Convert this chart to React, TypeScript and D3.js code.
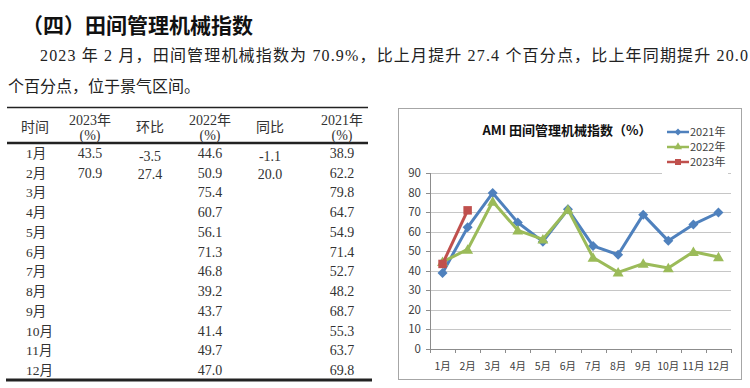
import React, { useEffect, useRef } from "react";
import * as d3 from "d3";

const months = ["1月", "2月", "3月", "4月", "5月", "6月", "7月", "8月", "9月", "10月", "11月", "12月"];
const v2021 = [38.9, 62.2, 79.8, 64.7, 54.9, 71.4, 52.7, 48.2, 68.7, 55.3, 63.7, 69.8];
const v2022 = [44.6, 50.9, 75.4, 60.7, 56.1, 71.3, 46.8, 39.2, 43.7, 41.4, 49.7, 47.0];
const v2023 = [43.5, 70.9];
const momChange = [-3.5, 27.4];
const yoyChange = [-1.1, 20.0];
const yTicks = [0, 10, 20, 30, 40, 50, 60, 70, 80, 90];
const seriesNames = ["2021年", "2022年", "2023年"];
const seriesColors = ["#4f81bd", "#9bbb59", "#c0504d"];

const heading = "（四）田间管理机械指数";
const para1 = "2023 年 2 月，田间管理机械指数为 70.9%，比上月提升 27.4 个百分点，比上年同期提升 20.0";
const para2 = "个百分点，位于景气区间。";
const chartTitle = "AMI 田间管理机械指数（%）";

const serif = "'Liberation Serif', 'Noto Sans CJK SC', serif";
const sans = "'Noto Sans CJK SC', 'Noto Sans', sans-serif";

const App = () => {
  const ref = useRef<SVGSVGElement | null>(null);

  useEffect(() => {
    const svg = d3.select(ref.current);
    svg.selectAll("*").remove();

    // page text
    svg.append("text").attr("x", 22).attr("y", 33)
      .attr("font-family", sans).attr("font-weight", "bold").attr("font-size", 21)
      .attr("fill", "#111").text(heading);
    svg.append("text").attr("x", 40).attr("y", 61)
      .attr("font-family", serif).attr("font-size", 16).attr("fill", "#222")
      .attr("textLength", 708).attr("lengthAdjust", "spacing").text(para1);
    svg.append("text").attr("x", 8).attr("y", 92)
      .attr("font-family", serif).attr("font-size", 16).attr("fill", "#222").text(para2);

    // ---- table ----
    const tbl = svg.append("g").attr("font-family", serif).attr("font-size", 14).attr("fill", "#333");
    tbl.append("line").attr("x1", 7).attr("x2", 368).attr("y1", 107.5).attr("y2", 107.5)
      .attr("stroke", "#222").attr("stroke-width", 1.5);
    tbl.append("line").attr("x1", 7).attr("x2", 368).attr("y1", 143).attr("y2", 143)
      .attr("stroke", "#222").attr("stroke-width", 2.5);
    tbl.append("line").attr("x1", 6).attr("x2", 372).attr("y1", 380).attr("y2", 380)
      .attr("stroke", "#222").attr("stroke-width", 3);

    const colX = [35, 90, 150, 210, 270, 342];
    const headers = [["时间"], ["2023年", "(%)"], ["环比"], ["2022年", "(%)"], ["同比"], ["2021年", "(%)"]];
    headers.forEach((h, i) => {
      if (h.length === 1) {
        tbl.append("text").attr("x", colX[i]).attr("y", 132).attr("text-anchor", "middle").text(h[0]);
      } else {
        tbl.append("text").attr("x", colX[i]).attr("y", 125).attr("text-anchor", "middle").text(h[0]);
        tbl.append("text").attr("x", colX[i]).attr("y", 140).attr("text-anchor", "middle").text(h[1]);
      }
    });

    const rowY = d3.scaleLinear().domain([0, 11]).range([158, 375]);
    months.forEach((m, i) => {
      const y = rowY(i);
      tbl.append("text").attr("x", 26).attr("y", y).attr("font-size", 13.5).text(m);
      if (i < v2023.length) {
        tbl.append("text").attr("x", colX[1]).attr("y", y).attr("text-anchor", "middle").text(v2023[i].toFixed(1));
        tbl.append("text").attr("x", colX[2]).attr("y", y + (i === 0 ? 3 : 1)).attr("text-anchor", "middle").text(momChange[i].toFixed(1));
        tbl.append("text").attr("x", colX[4]).attr("y", y + (i === 0 ? 3 : 1)).attr("text-anchor", "middle").text(yoyChange[i].toFixed(1));
      }
      tbl.append("text").attr("x", colX[3]).attr("y", y).attr("text-anchor", "middle").text(v2022[i].toFixed(1));
      tbl.append("text").attr("x", colX[5]).attr("y", y).attr("text-anchor", "middle").text(v2021[i].toFixed(1));
    });

    // ---- chart ----
    svg.append("rect").attr("x", 398.5).attr("y", 108.5).attr("width", 343).attr("height", 271)
      .attr("fill", "#fff").attr("stroke", "#a6a6a6");

    const x = d3.scaleBand().domain(months).range([430, 731]);
    const y = d3.scaleLinear().domain([0, 90]).range([349, 173]);
    const cx = (m: string) => (x(m) as number) + x.bandwidth() / 2;

    const g = svg.append("g").attr("font-family", sans).attr("font-size", 11.5).attr("fill", "#404040");

    g.selectAll(".grid").data(yTicks.filter((t) => t > 0)).enter().append("line")
      .attr("x1", 430).attr("x2", 731)
      .attr("y1", (d) => Math.round(y(d)) + 0.5).attr("y2", (d) => Math.round(y(d)) + 0.5)
      .attr("stroke", "#c6c6c6");

    // axes
    g.append("line").attr("x1", 430.5).attr("x2", 430.5).attr("y1", y(90)).attr("y2", y(0))
      .attr("stroke", "#8c8c8c");
    g.append("line").attr("x1", 430).attr("x2", 731).attr("y1", Math.round(y(0)) + 0.5).attr("y2", Math.round(y(0)) + 0.5)
      .attr("stroke", "#8c8c8c");
    g.selectAll(".ytick").data(yTicks).enter().append("line")
      .attr("x1", 426).attr("x2", 430)
      .attr("y1", (d) => Math.round(y(d)) + 0.5).attr("y2", (d) => Math.round(y(d)) + 0.5)
      .attr("stroke", "#8c8c8c");
    g.selectAll(".xtick").data(months.concat([""])).enter().append("line")
      .attr("x1", (d, i) => Math.round(430 + i * x.bandwidth()) + 0.5)
      .attr("x2", (d, i) => Math.round(430 + i * x.bandwidth()) + 0.5)
      .attr("y1", y(0)).attr("y2", y(0) + 4)
      .attr("stroke", "#8c8c8c");

    g.selectAll(".ylab").data(yTicks).enter().append("text")
      .attr("x", 421).attr("y", (d) => y(d) + 4).attr("text-anchor", "end").text((d) => d);
    g.selectAll(".xlab").data(months).enter().append("text")
      .attr("x", (d) => cx(d)).attr("y", 370).attr("text-anchor", "middle")
      .attr("font-size", 10.5).text((d) => d);

    // series
    const allSeries = [v2021, v2022, v2023];
    const symbols = [
      d3.symbol().type(d3.symbolDiamond2).size(64),
      d3.symbol().type(d3.symbolTriangle).size(52),
      d3.symbol().type(d3.symbolSquare).size(72),
    ];
    allSeries.forEach((vals, s) => {
      const line = d3.line<number>().x((d, i) => cx(months[i])).y((d) => y(d));
      svg.append("path").attr("d", line(vals)).attr("fill", "none")
        .attr("stroke", seriesColors[s]).attr("stroke-width", 3).attr("stroke-linejoin", "round");
      svg.selectAll(".m" + s).data(vals).enter().append("path")
        .attr("d", symbols[s]())
        .attr("transform", (d, i) => `translate(${cx(months[i])},${y(d) + (s === 1 ? 1 : 0)})`)
        .attr("fill", seriesColors[s]);
    });

    // title
    svg.append("text").attr("x", 567).attr("y", 135).attr("text-anchor", "middle")
      .attr("font-family", sans).attr("font-weight", "bold").attr("font-size", 13).attr("fill", "#111")
      .text(chartTitle);

    // legend
    const lg = svg.append("g");
    lg.append("rect").attr("x", 662).attr("y", 121).attr("width", 66).attr("height", 54).attr("fill", "#fff");
    const legendSymbols = [
      d3.symbol().type(d3.symbolDiamond2).size(30),
      d3.symbol().type(d3.symbolTriangle).size(28),
      d3.symbol().type(d3.symbolSquare).size(36),
    ];
    seriesNames.forEach((name, i) => {
      const ly = 132 + i * 15;
      lg.append("line").attr("x1", 667).attr("x2", 689).attr("y1", ly).attr("y2", ly)
        .attr("stroke", seriesColors[i]).attr("stroke-width", 2.5);
      lg.append("path").attr("d", legendSymbols[i]()).attr("transform", `translate(678,${ly})`)
        .attr("fill", seriesColors[i]);
      lg.append("text").attr("x", 690).attr("y", ly + 4).attr("font-family", sans)
        .attr("font-size", 11).attr("fill", "#404040").text(name);
    });
  }, []);

  return (
    <svg
      ref={ref}
      width={750}
      height={388}
      style={{ position: "absolute", left: 0, top: 0, background: "#fff" }}
    />
  );
};

export default App;
